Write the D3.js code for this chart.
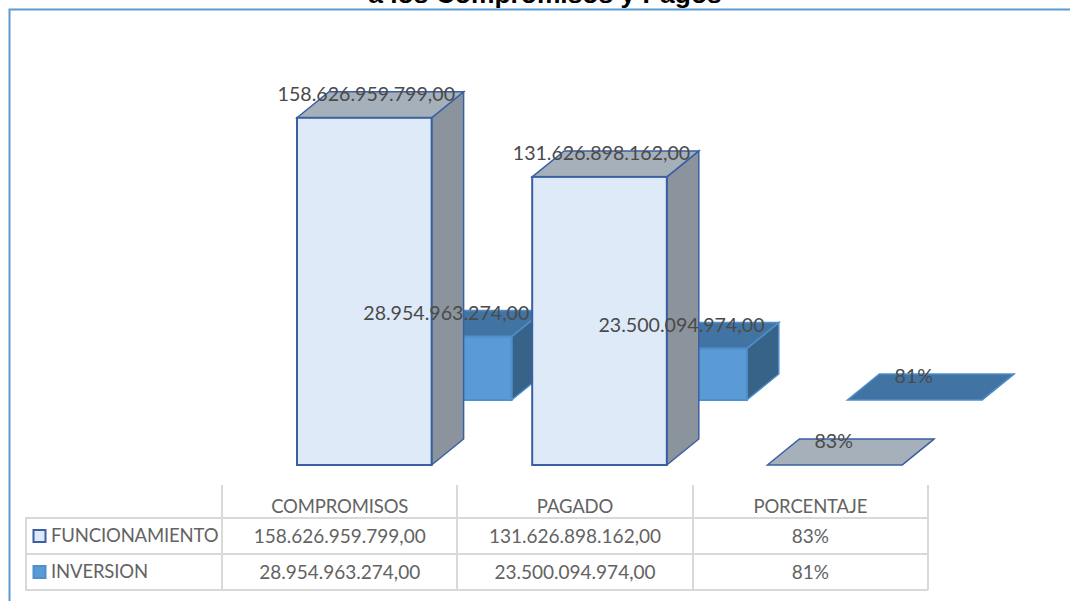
<!DOCTYPE html>
<html lang="en">
<head>
    <meta charset="utf-8">
    <title>Compromisos y Pagos</title>
    <style>
        html, body { margin: 0; padding: 0; background: #fff; overflow: hidden; }
        svg { display: block; }
        .title { font: bold 26.4px "Liberation Sans", sans-serif; fill: #000; text-anchor: middle; }
        .label, .cell { font-family: Lato, sans-serif; font-size: 19px; }
        .label { font-size: 19.6px; fill: #4a4a4a; text-anchor: middle; }
        .cell { fill: #636363; text-anchor: middle; }
        .caps { font-size: 18.5px; letter-spacing: -0.15px; }
        .grid { stroke: #d9d9d9; stroke-width: 2; fill: none; }
    </style>
</head>
<body>
<script src="https://d3js.org/d3.v7.min.js"></script>
<script>
    var categories = ["COMPROMISOS", "PAGADO", "PORCENTAJE"];
    var seriesNames = ["FUNCIONAMIENTO", "INVERSION"];
    var funcionamiento = [158626959799, 131626898162, 0.83];
    var inversion = [28954963274, 23500094974, 0.81];
    var funcionamientoLabels = ["158.626.959.799,00", "131.626.898.162,00", "83%"];
    var inversionLabels = ["28.954.963.274,00", "23.500.094.974,00", "81%"];

    var width = 1070, height = 601;

    var svg = d3.select("body").append("svg")
        .attr("width", width)
        .attr("height", height);

    // chart frame, runs off the top right of the picture
    svg.append("path")
        .attr("d", "M1070,9.5H9.5V601")
        .attr("fill", "none")
        .attr("stroke", "#5b9bd5")
        .attr("stroke-width", 2);

    // the title is cut by the top edge in the original too
    svg.append("text")
        .attr("class", "title")
        .attr("x", 545)
        .attr("y", 3)
        .text("a los Compromisos y Pagos");

    var x = d3.scaleBand().domain(categories).range([297, 902]).paddingInner(100.5 / 235);
    var y = d3.scaleLinear().domain([0, 180e9]).range([465, 71]);

    // fake 3d offsets
    var depthX = 32, depthY = -26;
    var rowX = 80, rowY = -65;

    var series = [
        { values: inversion, labels: inversionLabels, dx: rowX, dy: rowY,
          front: "#5b9bd5", top: "#4274a3", side: "#386389", stroke: "#4f8fcb" },
        { values: funcionamiento, labels: funcionamientoLabels, dx: 0, dy: 0,
          front: "#deeaf8", top: "#a6b0ba", side: "#8b949c", stroke: "#3a5fa3" }
    ];

    function poly(pts) {
        return "M" + pts.map(function(p) { return p.join(","); }).join("L") + "Z";
    }

    series.forEach(function(s) {
        var bars = svg.append("g").selectAll("g")
            .data(categories)
            .enter().append("g")
            .attr("transform", "translate(" + s.dx + "," + s.dy + ")");

        bars.each(function(c, i) {
            var g = d3.select(this);
            var x0 = x(c), x1 = x0 + x.bandwidth();
            var yT = y(s.values[i]), yB = y(0);

            g.append("path")
                .attr("d", poly([[x1, yT], [x1 + depthX, yT + depthY], [x1 + depthX, yB + depthY], [x1, yB]]))
                .attr("fill", s.side).attr("stroke", s.stroke).attr("stroke-width", 1.5);
            g.append("path")
                .attr("d", poly([[x0, yT], [x0 + depthX, yT + depthY], [x1 + depthX, yT + depthY], [x1, yT]]))
                .attr("fill", s.top).attr("stroke", s.stroke).attr("stroke-width", 1.5);
            g.append("rect")
                .attr("x", x0).attr("y", yT)
                .attr("width", x1 - x0).attr("height", yB - yT)
                .attr("fill", s.front).attr("stroke", s.stroke).attr("stroke-width", 2);
        });
    });

    // labels go over all the bars
    series.forEach(function(s) {
        svg.append("g").selectAll("text")
            .data(categories)
            .enter().append("text")
            .attr("class", "label")
            .attr("x", function(c, i) { return x(c) + x.bandwidth() / 2 + s.dx + (i === 2 ? -1 : 2); })
            .attr("y", function(c, i) { return y(s.values[i]) + s.dy - 17; })
            .text(function(c, i) { return s.labels[i]; });
    });

    // data table
    var col = d3.scaleBand().domain(categories).range([222, 928]);
    var rowLines = [518, 554, 590];

    svg.append("g").selectAll("line")
        .data(rowLines)
        .enter().append("line")
        .attr("class", "grid")
        .attr("x1", 26).attr("x2", 928)
        .attr("y1", function(d) { return d; })
        .attr("y2", function(d) { return d; });

    svg.append("g").selectAll("line")
        .data([222, 457, 693, 928])
        .enter().append("line")
        .attr("class", "grid")
        .attr("x1", function(d) { return d; })
        .attr("x2", function(d) { return d; })
        .attr("y1", 485).attr("y2", 590);

    svg.append("line").attr("class", "grid")
        .attr("x1", 26).attr("x2", 26).attr("y1", 517).attr("y2", 591);

    svg.append("g").selectAll("text")
        .data(categories)
        .enter().append("text")
        .attr("class", "cell caps")
        .attr("x", function(c) { return col(c) + col.bandwidth() / 2; })
        .attr("y", 513)
        .text(function(c) { return c; });

    [funcionamientoLabels, inversionLabels].forEach(function(labels, r) {
        svg.append("g").selectAll("text")
            .data(categories)
            .enter().append("text")
            .attr("class", "cell")
            .attr("x", function(c) { return col(c) + col.bandwidth() / 2; })
            .attr("y", 543 + r * 36)
            .text(function(c, i) { return labels[i]; });
    });

    var legendStyle = [
        { fill: "#deeaf8", stroke: "#3a5fa3" },
        { fill: "#5b9bd5", stroke: "#4f8fcb" }
    ];

    seriesNames.forEach(function(name, r) {
        svg.append("rect")
            .attr("x", 33.5).attr("y", 530 + r * 36)
            .attr("width", 12).attr("height", 12)
            .attr("fill", legendStyle[r].fill)
            .attr("stroke", legendStyle[r].stroke)
            .attr("stroke-width", 2);
        svg.append("text")
            .attr("class", "cell caps")
            .style("text-anchor", "start")
            .attr("x", 51)
            .attr("y", 542 + r * 36)
            .text(name);
    });
</script>
</body>
</html>
